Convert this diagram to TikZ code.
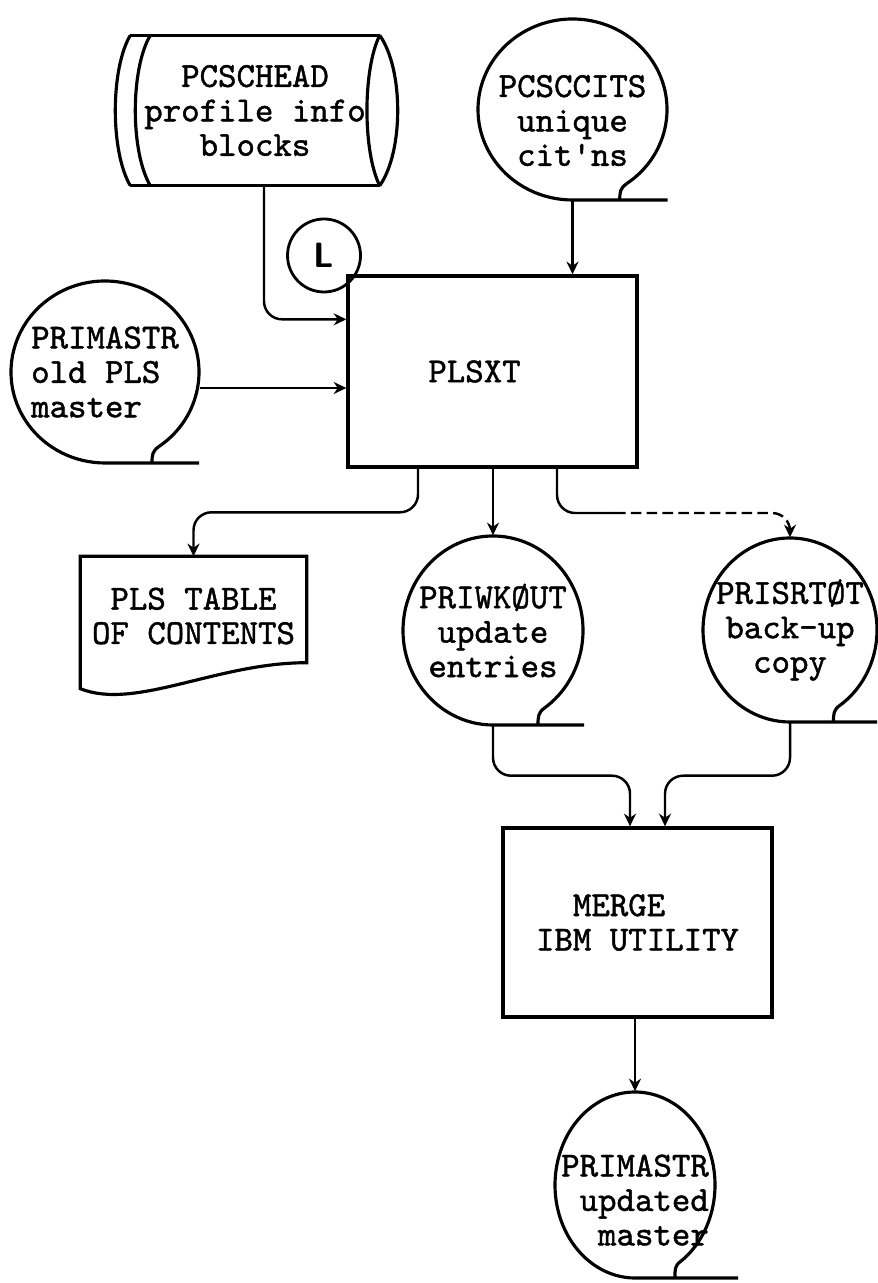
\documentclass[tikz,border=0pt]{standalone}
\usepackage{fontspec}
\setmonofont{Latin Modern Mono}[FakeBold=1.3]
\usetikzlibrary{arrows.meta,calc}

% tape: name, x, y, x radius, y radius, base line, alignment, text
\newcommand{\tape}[8]{%
  \node[tapetext, minimum width={2*#4 cm}, minimum height={2*#5 cm}, align=#7] (#1) at (#2,#3) {#8};
  \draw[outline] ($(#1.center)+(-55:#4 and #5)$) arc[start angle=-55, end angle=270, x radius=#4, y radius=#5] -- ++(#6,0);
  \draw[outline] ($(#1.center)+(-55:#4 and #5)$) .. controls +(-145:0.08) and +(0,0.08) .. ($(#1.center)+(0.5*#4,-#5)$);
}

\begin{document}
\begin{tikzpicture}[
    txt/.style={font=\ttfamily\fontsize{10}{9.8}\selectfont},
    box/.style={rectangle, draw, line width=0.95pt, txt, align=left},
    tapetext/.style={rectangle, inner sep=0pt, txt},
    outline/.style={line width=0.9pt},
    flow/.style={-{Stealth[length=3.6pt, width=3.4pt]}, line width=0.7pt, rounded corners=0.18cm}
]
\useasboundingbox (0,0) rectangle (8.77,-12.83);

% inputs
\node[tapetext, minimum width=2.48cm, minimum height=1.49cm, align=center] (head) at (2.55,-1.105) {PCSCHEAD\\profile info\\blocks};
\draw[outline] (head.north west) -- (head.north east) (head.south west) -- (head.south east);
\draw[outline] (head.north west) .. controls +(-0.2,-0.34) and +(-0.2,0.34) .. (head.south west);
\draw[outline] ([xshift=0.2cm]head.north west) .. controls +(-0.2,-0.34) and +(-0.2,0.34) .. ([xshift=0.2cm]head.south west);
\draw[outline] (head.north east) .. controls +(-0.17,-0.34) and +(-0.17,0.34) .. (head.south east);
\draw[outline] (head.north east) .. controls +(0.24,-0.34) and +(0.24,0.34) .. (head.south east);

\node[draw, circle, line width=0.8pt, minimum size=0.73cm, inner sep=0pt, font=\sffamily\bfseries] (lib) at (3.24,-2.555) {L};

\tape{cits}{5.725}{-1.095}{0.945}{0.905}{0.95}{center}{\rule{0pt}{0.44cm}PCSCCITS\\unique\\cit'ns}
\tape{oldmst}{1.05}{-3.72}{0.94}{0.91}{0.94}{left}{PRIMASTR\\old PLS\\master}

% program
\node[box, minimum width=2.89cm, minimum height=1.91cm, align=center] (plsxt) at (4.925,-3.715) {PLSXT\hspace*{0.36cm}};

% outputs
\node[tapetext, minimum width=2.25cm, minimum height=1.18cm, align=center] (toc) at (1.935,-6.16) {PLS TABLE\\OF CONTENTS};
\draw[outline] (toc.north east) -- (toc.north west) -- ([yshift=-0.13cm]toc.south west) .. controls +(0.55,-0.22) and +(-0.9,0) .. ([yshift=0.13cm]toc.south east) -- cycle;

\tape{wkout}{4.93}{-6.305}{0.90}{0.945}{0.91}{center}{PRIWKØUT\\update\\entries}
\tape{srtot}{7.90}{-6.30}{0.87}{0.92}{0.87}{center}{PRISRTØT\\back-up\\copy}

\node[box, minimum width=2.69cm, minimum height=1.89cm] (merge) at (6.375,-9.225) {\phantom{IB}MERGE\\IBM UTILITY};
\tape{newmst}{6.35}{-11.85}{0.80}{0.93}{1.03}{right}{\rule{0pt}{0.52cm}PRIMASTR\\updated\\master}

% connectors
\coordinate (oldout) at ([yshift=-0.16cm]oldmst.east);
\coordinate (bkup) at (6.15,-5.13);
\draw[flow] ([xshift=0.09cm]head.south) |- ([yshift=-0.45cm]plsxt.north west);
\draw[flow] (oldout) -- (oldout -| plsxt.west);
\draw[flow] (cits.south) -- (cits.south |- plsxt.north);
\draw[flow] ([xshift=-0.745cm]plsxt.south) |- ([yshift=0.44cm]toc.north) -- (toc.north);
\draw[flow] (wkout.north |- plsxt.south) -- (wkout.north);
\draw[flow, -] ([xshift=0.645cm]plsxt.south) |- (bkup);
\draw[flow, dash pattern=on 3pt off 1.5pt] (bkup) -| (srtot.north);
\draw[flow] (wkout.south) -- ++(0,-0.5) -| ([xshift=-0.075cm]merge.north);
\draw[flow] (srtot.south) -- ++(0,-0.53) -| ([xshift=0.275cm]merge.north);
\draw[flow] (newmst.north |- merge.south) -- (newmst.north);
\end{tikzpicture}
\end{document}
